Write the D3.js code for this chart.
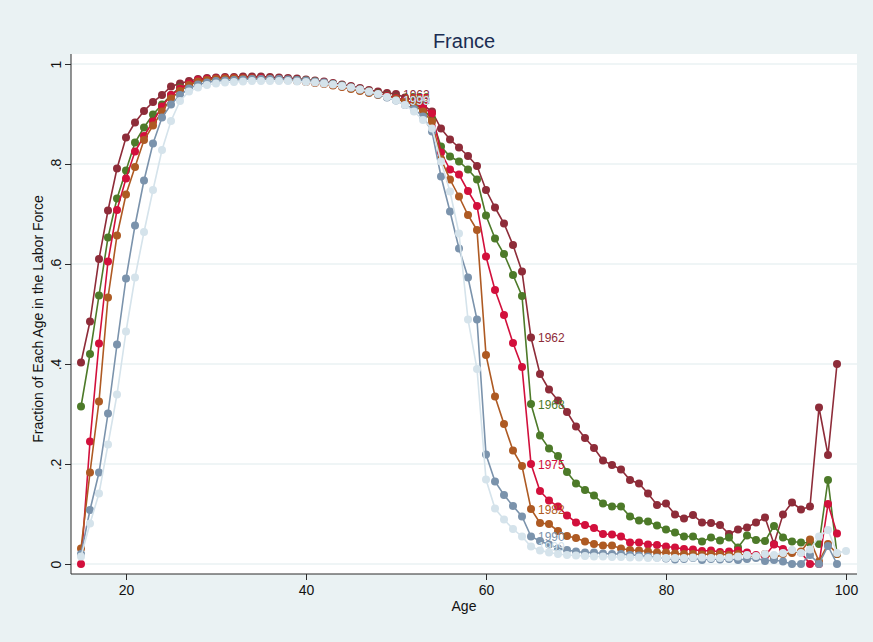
<!DOCTYPE html>
<html>
<head>
<meta charset="utf-8">
<script src="https://cdn.jsdelivr.net/npm/d3@7"></script>
<style>
  html, body { margin: 0; padding: 0; background: #eaf2f3; }
  svg { display: block; }
  text { font-family: "Liberation Sans", Arial, sans-serif; }
</style>
</head>
<body>
<svg id="chart" width="873" height="642"></svg>
<script>
// Labor force participation by age, France, census years
const ages = d3.range(15, 100);          // 15..99
const agesLong = d3.range(15, 101);      // 15..100 (1999 census)

const lf1962 = [
  .403,.485,.610,.707,.791,.853,.883,.906,.924,.938,.955,.961,.966,.970,
  .972,.973,.974,.974,.975,.975,.975,.974,.973,.972,.971,.969,.967,.965,.962,.959,.956,.952,.948,.945,.942,.940,.933,.927,.918,.905,
  .871,.849,.833,.816,.796,.748,.713,.681,.638,.585,.453,.380,.349,.327,.304,.275,.252,.232,.207,.198,.189,.168,.161,.141,.118,.121,
  .099,.091,.098,.083,.082,.078,.060,.069,.073,.083,.093,.040,.099,.123,.109,.115,.313,.218,.400
];
const lf1968 = [
  .315,.420,.537,.653,.731,.787,.843,.873,.899,.919,.938,.953,.958,.965,
  .968,.970,.971,.972,.972,.972,.972,.971,.970,.969,.968,.967,.965,.962,.960,.957,.953,.949,.945,.941,.937,.933,.927,.920,.910,.890,
  .835,.815,.805,.789,.769,.697,.651,.620,.578,.536,.320,.257,.231,.216,.184,.161,.148,.137,.121,.115,.115,.095,.087,.085,.077,.069,
  .063,.055,.055,.045,.053,.047,.053,.033,.057,.048,.046,.076,.053,.045,.043,.042,.040,.168,.020
];
const lf1975 = [
  .000,.245,.441,.605,.708,.771,.825,.856,.885,.915,.938,.951,.961,.968,
  .970,.971,.972,.972,.972,.972,.972,.971,.970,.969,.967,.965,.963,.961,.958,.955,.952,.948,.944,.940,.936,.932,.927,.921,.913,.901,
  .823,.789,.779,.746,.716,.615,.548,.498,.442,.394,.200,.146,.127,.115,.097,.083,.078,.072,.060,.059,.055,.043,.043,.039,.038,.035,
  .033,.030,.029,.026,.027,.024,.025,.027,.023,.018,.016,.039,.030,.025,.023,.000,.000,.120,.061
];
const lf1982 = [
  .031,.183,.325,.533,.657,.739,.794,.848,.877,.905,.931,.946,.958,.965,
  .968,.970,.971,.971,.971,.971,.970,.970,.969,.968,.966,.964,.962,.960,.957,.954,.950,.946,.942,.938,.934,.930,.925,.918,.905,.885,
  .810,.769,.735,.698,.668,.418,.335,.280,.227,.196,.110,.082,.080,.066,.056,.052,.045,.040,.037,.037,.031,.028,.027,.025,.023,.023,
  .021,.020,.020,.019,.020,.020,.018,.020,.017,.015,.020,.012,.020,.022,.025,.049,.005,.040,.020
];
const lf1990 = [
  .020,.108,.183,.301,.439,.571,.677,.767,.841,.893,.919,.938,.951,.959,
  .963,.966,.967,.968,.969,.970,.970,.970,.970,.969,.968,.967,.965,.963,.960,.957,.953,.949,.944,.939,.933,.927,.918,.910,.895,.865,
  .775,.705,.631,.573,.489,.219,.165,.138,.116,.095,.055,.046,.039,.031,.028,.025,.023,.023,.021,.020,.020,.018,.017,.015,.013,.011,
  .009,.010,.012,.008,.010,.009,.010,.008,.010,.012,.006,.008,.005,.000,.000,.018,.000,.036,.000
];
const lf1999 = [
  .015,.081,.141,.239,.339,.465,.573,.664,.748,.828,.886,.926,.945,.953,
  .958,.961,.963,.964,.965,.966,.966,.966,.966,.966,.965,.964,.963,.961,.959,.956,.953,.949,.945,.940,.934,.927,.918,.905,.888,.871,
  .805,.745,.661,.489,.390,.169,.111,.089,.070,.055,.035,.027,.023,.020,.018,.017,.016,.015,.015,.014,.014,.013,.013,.012,.012,.012,
  .012,.012,.013,.013,.012,.012,.013,.015,.018,.016,.020,.018,.022,.028,.022,.029,.055,.068,.022,.026
];

const years = ["1962", "1968", "1975", "1982", "1990", "1999"];
const seriesValues = [lf1962, lf1968, lf1975, lf1982, lf1990, lf1999];
const seriesAges = [ages, ages, ages, ages, ages, agesLong];
const colors = ["#8e2c39", "#4d7a29", "#d2103c", "#ae5a23", "#7b93ac", "#d5e3eb"];
const labelAges = [50, 65];

const xTicks = [20, 40, 60, 80, 100];
const yTicks = [0, 0.2, 0.4, 0.6, 0.8, 1];
const yTickLabels = ["0", ".2", ".4", ".6", ".8", "1"];

const svg = d3.select("#chart");
const W = 873, H = 642;
const plot = { left: 71, right: 857, top: 54, bottom: 574 };

const x = d3.scaleLinear().domain([20, 100]).range([126, 846]);
const y = d3.scaleLinear().domain([0, 1]).range([564, 64]);

// graph region
svg.append("rect").attr("width", W).attr("height", H).attr("fill", "#eaf2f3");
svg.append("rect")
  .attr("x", plot.left).attr("y", plot.top)
  .attr("width", plot.right - plot.left).attr("height", plot.bottom - plot.top)
  .attr("fill", "#ffffff");

// horizontal grid
svg.append("g").selectAll("line").data(yTicks).join("line")
  .attr("x1", plot.left).attr("x2", plot.right)
  .attr("y1", d => y(d)).attr("y2", d => y(d))
  .attr("stroke", "#eaf2f3").attr("stroke-width", 1.6);

// y axis
const yAxis = d3.axisLeft(y).tickValues(yTicks)
  .tickFormat((d, i) => yTickLabels[i]).tickSize(6).tickPadding(4);
const gy = svg.append("g").attr("transform", `translate(${plot.left},0)`).call(yAxis);
gy.select(".domain").remove();
gy.selectAll(".tick line").attr("stroke", "#2a2a2a");
gy.selectAll(".tick text")
  .attr("font-size", 14).attr("fill", "#111")
  .attr("x", null).attr("dy", null)
  .attr("transform", "translate(-10,0) rotate(-90)")
  .attr("text-anchor", "middle");
svg.append("line")
  .attr("x1", plot.left).attr("x2", plot.left)
  .attr("y1", plot.top).attr("y2", plot.bottom)
  .attr("stroke", "#2a2a2a").attr("stroke-width", 1);

// x axis
const xAxis = d3.axisBottom(x).tickValues(xTicks).tickSize(6).tickPadding(5);
const gx = svg.append("g").attr("transform", `translate(0,${plot.bottom})`).call(xAxis);
gx.select(".domain").remove();
gx.selectAll(".tick line").attr("stroke", "#2a2a2a");
gx.selectAll(".tick text").attr("font-size", 14).attr("fill", "#111");
svg.append("line")
  .attr("x1", plot.left).attr("x2", plot.right)
  .attr("y1", plot.bottom).attr("y2", plot.bottom)
  .attr("stroke", "#2a2a2a").attr("stroke-width", 1);

// titles
svg.append("text").attr("x", 464).attr("y", 48)
  .attr("text-anchor", "middle").attr("font-size", 20).attr("fill", "#1a2d52")
  .text("France");
svg.append("text").attr("x", 464).attr("y", 611)
  .attr("text-anchor", "middle").attr("font-size", 14).attr("fill", "#111")
  .text("Age");
svg.append("text")
  .attr("transform", `translate(43,${(plot.top + plot.bottom) / 2 + 5}) rotate(-90)`)
  .attr("text-anchor", "middle").attr("font-size", 14).attr("fill", "#111")
  .text("Fraction of Each Age in the Labor Force");

// series
const line = d3.line().x(d => x(d[0])).y(d => y(d[1]));
seriesValues.forEach((vals, k) => {
  const pts = seriesAges[k].map((a, i) => [a, vals[i]]);
  const g = svg.append("g");
  g.append("path").datum(pts).attr("d", line)
    .attr("fill", "none").attr("stroke", colors[k]).attr("stroke-width", 1.6);
  g.selectAll("circle").data(pts).join("circle")
    .attr("cx", d => x(d[0])).attr("cy", d => y(d[1])).attr("r", 4)
    .attr("fill", colors[k]);
  g.selectAll("text").data(pts.filter(d => labelAges.includes(d[0]))).join("text")
    .attr("x", d => x(d[0]) + 7).attr("y", d => y(d[1]) + 4.5)
    .attr("font-size", 12).attr("fill", colors[k])
    .text(years[k]);
});
</script>
</body>
</html>
